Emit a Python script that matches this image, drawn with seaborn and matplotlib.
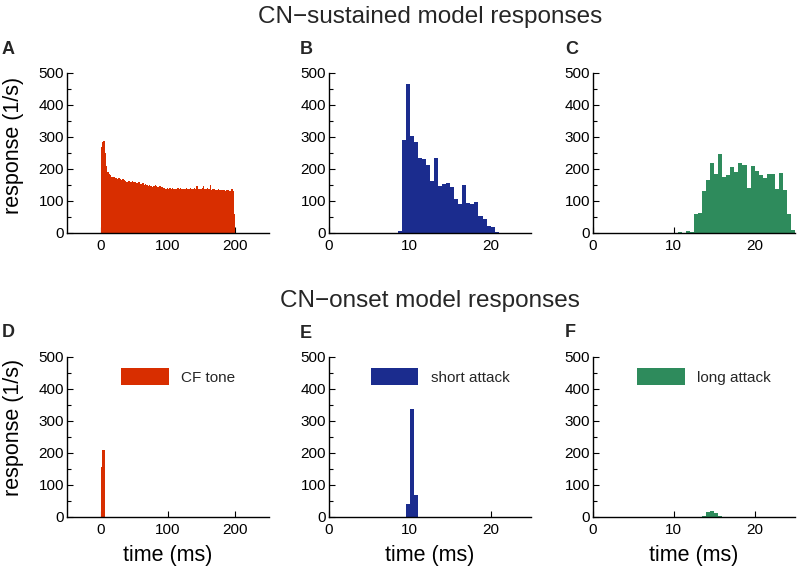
import numpy as np
import pandas as pd
import matplotlib
matplotlib.use("Agg")
import matplotlib.pyplot as plt
from matplotlib.patches import Patch
from matplotlib.ticker import MultipleLocator
import seaborn as sns

# --- Colours ---
RED = "#D82E00"
BLUE = "#1B2C8E"
GREEN = "#2E8B5C"

# --- Data (rates in 1/s) ---
# A: CN-sustained, CF tone, 2 ms bins from 0 ms
A_START, A_BIN = 0.0, 2.0
A_RATE = [268, 285, 288, 250, 210, 192, 185, 180, 176, 175,
          174, 172, 170, 171, 168, 166, 168, 165, 163, 160,
          164, 162, 160, 161, 158, 160, 157, 156, 158, 154,
          152, 155, 150, 153, 149, 147, 150, 146, 145, 148,
          150, 147, 144, 148, 146, 143, 140, 142, 138, 141,
          136, 140, 138, 141, 137, 139, 136, 140, 138, 141,
          137, 139, 136, 140, 138, 137, 141, 139, 136, 140,
          138, 148, 137, 139, 136, 140, 146, 138, 136, 140,
          137, 150, 135, 138, 136, 134, 135, 136, 134, 135,
          133, 134, 132, 133, 134, 132, 131, 136, 130, 60]

# B: CN-sustained, short attack, 0.5 ms bins from 8.5 ms
B_START, B_BIN = 8.5, 0.5
B_RATE = [6, 290, 467, 303, 284, 234, 230, 213, 161, 235,
          146, 152, 156, 145, 105, 91, 151, 93, 90, 96,
          52, 45, 22, 18, 4]

# C: CN-sustained, long attack, 0.5 ms bins from 10.5 ms
C_START, C_BIN = 10.5, 0.5
C_RATE = [2, 0, 5, 3, 58, 63, 130, 165, 219, 185,
          246, 176, 180, 206, 190, 218, 212, 140, 210, 194,
          181, 173, 183, 183, 136, 187, 133, 58, 10]

# D-F: CN-onset responses
D_START, D_BIN = 0.0, 2.0
D_RATE = [156, 210, 210]
E_START, E_BIN = 9.5, 0.5
E_RATE = [40, 336, 70]
F_START, F_BIN = 13.5, 0.5
F_RATE = [3, 17, 18, 14, 4]

LONG_TICKS = [0, 100, 200]
SHORT_TICKS = [0, 10, 20]
LEGEND_LABELS = ["CF tone", "short attack", "long attack"]


def psth(ax, start, width, rates, color, xlim, xticks):
    rates = np.asarray(rates, dtype=float)
    n = len(rates)
    centers = start + width * (np.arange(n) + 0.5)
    df = pd.DataFrame({"time": centers, "rate": rates})
    sns.histplot(data=df, x="time", weights="rate", binwidth=width,
                 binrange=(start, start + n * width), ax=ax,
                 element="step", fill=True, color=color, alpha=1,
                 linewidth=0)
    ax.set_xlim(*xlim)
    ax.set_ylim(0, 500)
    ax.set_xticks(xticks)
    ax.set_yticks(range(0, 501, 100))
    ax.yaxis.set_minor_locator(MultipleLocator(50))
    ax.tick_params(axis="both", which="both", direction="in",
                   labelsize=11, pad=2, width=0.8, color="black",
                   labelcolor="black")
    ax.tick_params(axis="both", which="major", length=4)
    ax.tick_params(axis="both", which="minor", length=3)
    ax.tick_params(axis="x", pad=4)
    ax.set_xlabel("")
    ax.set_ylabel("")
    for side in ["top", "right"]:
        ax.spines[side].set_visible(False)
    for side in ["left", "bottom"]:
        ax.spines[side].set_linewidth(1.0)
        ax.spines[side].set_color("black")


sns.set_style("ticks")
plt.rcParams["font.family"] = ["Liberation Sans", "DejaVu Sans"]

fig = plt.figure(figsize=(7.98, 5.68), dpi=100)
W, H = 798, 568
lefts = [67, 329, 593]
tops = [73, 357]
aw, ah = 202, 160


def make_ax(col, row):
    return fig.add_axes([lefts[col] / W, 1 - (tops[row] + ah) / H, aw / W, ah / H])


axA, axB, axC = make_ax(0, 0), make_ax(1, 0), make_ax(2, 0)
axD, axE, axF = make_ax(0, 1), make_ax(1, 1), make_ax(2, 1)

psth(axA, A_START, A_BIN, A_RATE, RED, (-50, 250), LONG_TICKS)
psth(axB, B_START, B_BIN, B_RATE, BLUE, (0, 25), SHORT_TICKS)
psth(axC, C_START, C_BIN, C_RATE, GREEN, (0, 25), SHORT_TICKS)
psth(axD, D_START, D_BIN, D_RATE, RED, (-50, 250), LONG_TICKS)
psth(axE, E_START, E_BIN, E_RATE, BLUE, (0, 25), SHORT_TICKS)
psth(axF, F_START, F_BIN, F_RATE, GREEN, (0, 25), SHORT_TICKS)

for ax, ypos in [(axA, 0.55), (axD, 0.56)]:
    ax.set_ylabel("response (1/s)", fontsize=15.5, color="black")
    ax.yaxis.set_label_coords(-0.215, ypos)
for ax in [axD, axE, axF]:
    ax.set_xlabel("time (ms)", fontsize=15.5, labelpad=6, color="black")

# legends in the onset row
for ax, color, label in zip([axD, axE, axF], [RED, BLUE, GREEN], LEGEND_LABELS):
    ax.legend(handles=[Patch(facecolor=color, edgecolor="none")], labels=[label],
              loc="upper center", bbox_to_anchor=(0.55, 0.93), frameon=False,
              fontsize=11, handlelength=3.1, handleheight=1.3,
              handletextpad=0.8, borderpad=0, borderaxespad=0)

# row titles
fig.text(430 / W, 1 - 23 / H, "CN\u2212sustained model responses",
         ha="center", va="baseline", fontsize=17.5)
fig.text(430 / W, 1 - 307 / H, "CN\u2212onset model responses",
         ha="center", va="baseline", fontsize=17.5)

# panel letters
letters = [("A", 2, 54), ("B", 300, 54), ("C", 565, 54),
           ("D", 2, 337), ("E", 300, 338), ("F", 565, 337)]
for letter, x, y in letters:
    fig.text(x / W, 1 - y / H, letter, ha="left", va="baseline",
             fontsize=13, fontweight="bold")

fig.savefig("out.png", dpi=100)
plt.close(fig)
